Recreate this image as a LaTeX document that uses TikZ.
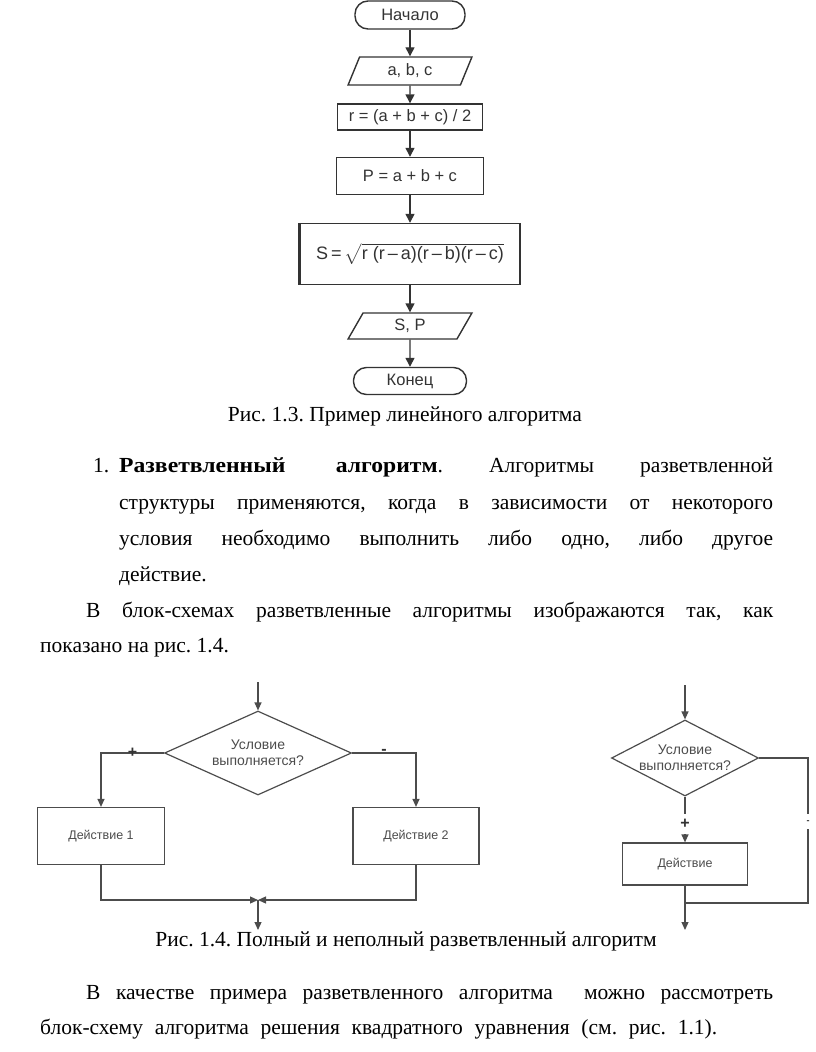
\documentclass[tikz,border=0pt]{standalone}
\usepackage{amsmath}
\usepackage{fontspec}
\setmainfont[BoldFeatures={FakeStretch=1.1}]{Liberation Serif}
\setsansfont{Liberation Sans}
\usetikzlibrary{arrows.meta,shapes.geometric}
\frenchspacing

\begin{document}
\begin{tikzpicture}[x=1pt,y=-1pt,
    blk/.style={draw=black!80, line width=1.4pt, inner sep=0pt, text=black!80,
      font=\sffamily\fontsize{16.5}{18}\selectfont},
    box/.style={blk, rectangle},
    io/.style={blk, trapezium, trapezium left angle=70, trapezium right angle=110,
      trapezium stretches=true},
    term/.style={blk, rectangle, rounded corners=13pt},
    flow/.style={draw=black!80, line width=1.4pt, -{Triangle[length=9pt,width=9pt]}},
    br/.style={draw=black!70, line width=1.2pt, inner sep=0pt, text=black!70,
      font=\sffamily\fontsize{12.5}{14}\selectfont},
    cond/.style={br, diamond, align=center, font=\sffamily\fontsize{14}{16}\selectfont},
    brflow/.style={draw=black!70, line width=1.2pt, -{Triangle[length=8pt,width=7pt]}},
    sgn/.style={text=black!80, inner sep=1pt, font=\sffamily\bfseries\fontsize{16}{16}\selectfont},
    txt/.style={inner sep=0pt, anchor=mid west, font=\fontsize{21.5}{26}\selectfont},
    capt/.style={inner sep=0pt, anchor=mid, font=\fontsize{21.5}{26}\selectfont},
  ]
  \useasboundingbox (0,0) rectangle (816,1052);

  \node[term, minimum width=110, minimum height=28] (B) at (410,15) {Начало};
  \node[io, minimum width=124, minimum height=28] (In) at (410,71) {a, b, c};
  \node[box, minimum width=145, minimum height=26] (R) at (410,117) {r = (a + b + c) / 2};
  \node[box, minimum width=147, minimum height=37] (P) at (410,176) {P = a + b + c};
  \node[box, minimum width=220, minimum height=61, font=\sffamily\fontsize{18}{20}\selectfont] (S) at (410,254)
    {S\,=\,$\sqrt{\text{r (r\,–\,a)(r\,–\,b)(r\,–\,c)}}$\hspace{18pt}};
  \node[io, minimum width=124, minimum height=26] (Out) at (410,326) {S, P};
  \node[term, minimum width=113, minimum height=27] (E) at (410,381) {Конец};
  \draw[line width=3pt, black!80] (S.north west) -- (S.south west);
  \draw[flow] (B) -- (In);
  \draw[flow] (In) -- (R);
  \draw[flow] (R) -- (P);
  \draw[flow] (P) -- (S);
  \draw[flow] (S) -- (Out);
  \draw[flow] (Out) -- (E);

  \node[capt] (cap3) at (405,419) {Рис. 1.3. Пример линейного алгоритма};

  \node[txt] (n1) at (93,470) {1.};
  \node[txt] (l1) at (119,470) {\makebox[654pt][s]{\textbf{Разветвленный алгоритм}. Алгоритмы разветвленной}};
  \node[txt] (l2) at (119,507) {\makebox[654pt][s]{структуры применяются, когда в зависимости от некоторого}};
  \node[txt] (l3) at (119,543) {\makebox[654pt][s]{условия необходимо выполнить либо одно, либо другое}};
  \node[txt] (l4) at (119,579) {действие.};
  \node[txt] (l5) at (86,615) {\makebox[687pt][s]{В блок-схемах разветвленные алгоритмы изображаются так, как}};
  \node[txt] (l6) at (40,650) {показано на рис. 1.4.};

  \coordinate (top1) at (258,682);
  \node[cond, aspect=2.2, minimum width=187, minimum height=84] (C1) at (258,753) {Условие\\выполняется?};
  \node[br, minimum width=127, minimum height=57] (A1) at (101,836) {Действие 1};
  \node[br, minimum width=126, minimum height=57] (A2) at (416,836) {Действие 2};
  \coordinate (M1) at (258,900);
  \coordinate (out1) at (258,930);
  \draw[brflow] (top1) -- (C1);
  \draw[brflow] (C1.west) -| node[sgn, pos=0.25] {+} (A1.north);
  \draw[brflow] (C1.east) -| node[sgn, pos=0.25, yshift=1] {-} (A2.north);
  \draw[brflow] (A1.south) |- (M1);
  \draw[brflow] (A2.south) |- (M1);
  \draw[brflow] (M1) -- (out1);

  \coordinate (top2) at (685,685);
  \node[cond, aspect=1.95, inner sep=-4pt, minimum width=147, minimum height=76] (C2) at (685,758) {Условие\\выполняется?};
  \node[br, minimum width=125, minimum height=42] (A3) at (685,864) {Действие};
  \coordinate (J2) at (808,903);
  \coordinate (M2) at (685,903);
  \coordinate (out2) at (685,930);
  \draw[brflow] (top2) -- (C2);
  \draw[brflow] (C2) -- node[sgn, pos=0.6, fill=white, inner sep=5pt] {+} (A3);
  \draw[draw=black!70, line width=1.2pt] (C2.east) -| node[pos=0.72, fill=white, text=black!80,
    inner ysep=6pt, inner xsep=1pt, font=\sffamily\bfseries\fontsize{9}{9}\selectfont] {-} (J2) -- (M2);
  \draw[brflow] (A3) -- (out2);

  \node[capt] (cap4) at (406,944) {Рис. 1.4. Полный и неполный разветвленный алгоритм};

  \node[txt] (l7) at (86,997) {\makebox[687pt][s]{В качестве примера разветвленного алгоритма\ \ можно рассмотреть}};
  \node[txt] (l8) at (40,1032) {\makebox[677pt][s]{блок-схему алгоритма решения квадратного уравнения (см. рис. 1.1).}};
\end{tikzpicture}
\end{document}
